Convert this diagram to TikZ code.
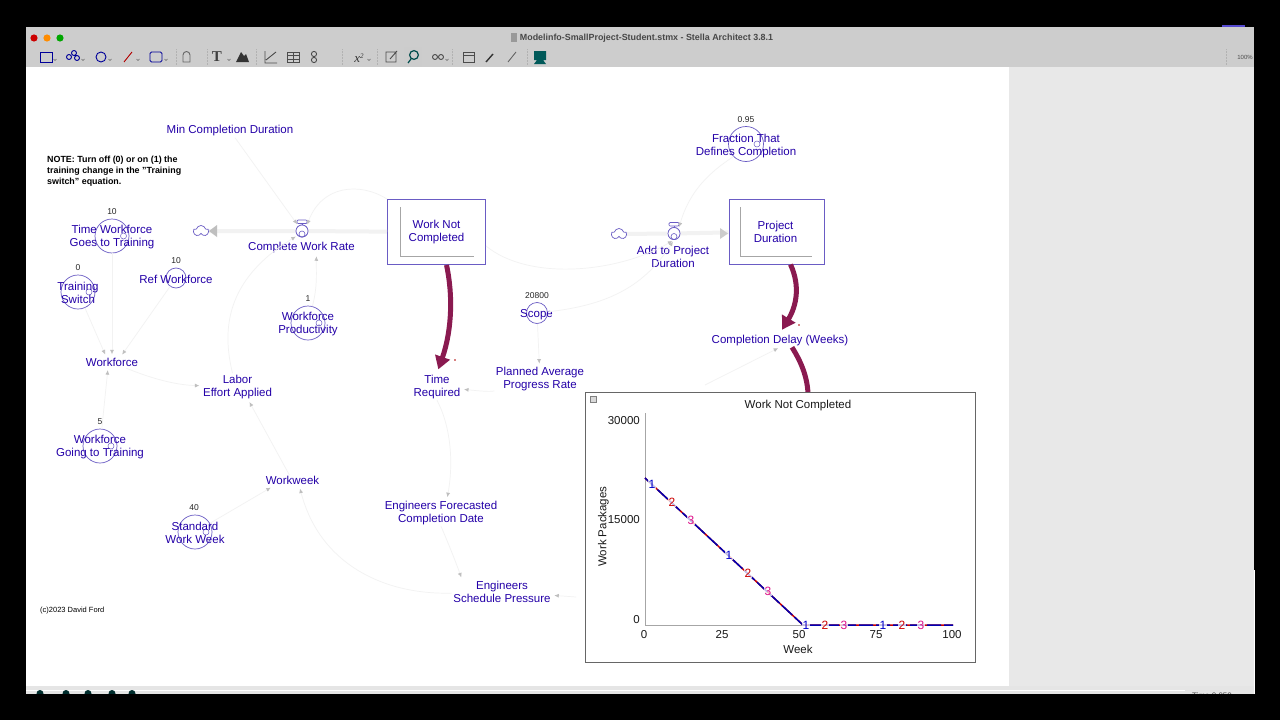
\documentclass[tikz,border=0pt]{standalone}
\usepackage{fontspec}
\setmainfont{Liberation Sans}
\newfontfamily\toolserif{Liberation Serif}
\usetikzlibrary{arrows.meta,shapes.symbols,calc}
\definecolor{inkblue}{HTML}{2400A8}
\definecolor{rimblue}{HTML}{6A5CC4}
\definecolor{maroon}{HTML}{8A1A50}
\definecolor{barGray}{HTML}{CDCDCD}
\definecolor{sidegray}{HTML}{E8E8E8}
\tikzset{
  lbl/.style={text=inkblue,font=\fontsize{11.5}{13}\selectfont,align=center,inner sep=1.5pt,yshift=-.7pt},
  val/.style={text=black!85,font=\fontsize{8.5}{9}\selectfont,inner sep=0pt,yshift=-.7pt},
  conv/.style={circle,draw=rimblue,line width=.7pt,inner sep=0pt},
  stock/.style={rectangle,draw=rimblue,line width=1pt,fill=white,inner sep=0pt},
  puff/.style={cloud,cloud puffs=5,aspect=1.25,draw=rimblue,line width=.7pt,minimum width=15pt,minimum height=11pt,inner sep=0pt},
  link/.style={draw=black!5,line width=.7pt,shorten >=2pt,-{Latex[length=4.5pt,width=4pt,color=black!25]}},
  heavy/.style={draw=maroon,line width=5pt,shorten >=4pt,-{Triangle[length=13pt,width=15pt,color=maroon]}},
  pipe/.style={draw=black!5,line width=4pt},
  plotlbl/.style={font=\fontsize{12}{13}\selectfont,fill=white,fill opacity=.75,text opacity=1,inner sep=.6pt},
  graphtxt/.style={text=black!90,font=\fontsize{11.5}{13}\selectfont,inner sep=0pt,yshift=-.7pt},
  tool/.style={draw=#1,line width=.9pt,fill=none},
  tool/.default=black!70
}
\begin{document}
\begin{tikzpicture}[x=1pt,y=-1pt]
  \fill[black] (0,0) rectangle (1280,720);
  \fill[white] (26,67) rectangle (1009,686);
  \fill[sidegray] (1009,67) rectangle (1254,686);
  \fill[barGray] (26,27) rectangle (1254,67);
  \fill[black!10] (26,686) rectangle (1254,694);
  \draw[white,line width=.8pt] (26,690) -- (1185,690);
  \fill[rimblue!80!blue] (1222,25) rectangle (1245,27);

  % window title and buttons
  \fill[red!80!black] (34,38) circle (3.6);
  \fill[orange!90!yellow] (47,38) circle (3.6);
  \fill[green!65!black] (60,38) circle (3.6);
  \fill[black!40] (511,33) rectangle (517,42);
  \node[font=\fontsize{8.9}{10}\selectfont\bfseries,text=black!72,inner sep=0pt] (wintitle) at (646.5,38.5) {Modelinfo-SmallProject-Student.stmx - Stella Architect 3.8.1};
  \node[font=\fontsize{6}{7}\selectfont,text=black!70,inner sep=0pt] (zoomlvl) at (1245,57.5) {100\%};

  % toolbar
  \fill[black!20] (404,47) rectangle (422,67);
  \draw[tool=blue!60!black] (40,52) rectangle (52,62);
  \draw[tool=blue!60!black] (69,57) circle (2.5) (74,53) circle (2.5) (77,58) circle (2.5);
  \draw[tool=blue!60!black] (101,57) circle (5);
  \draw[tool=red!70!black] (124,62) -- (132,52);
  \draw[tool=blue!60!black,rounded corners=1.5pt] (150,52) rectangle (162,62);
  \draw[tool=black!60] (183,62) -- (183,55) arc (180:360:3.5) -- (190,62) -- cycle;
  \node[font=\fontsize{15}{15}\toolserif\bfseries,text=black!75,inner sep=0pt] (toolT) at (217,57) {T};
  \fill[black!80] (236,62) -- (241,52) -- (244,56) -- (246,54) -- (249,62) -- cycle;
  \draw[tool=black!70] (265,51) -- (265,63) -- (277,63) (266,60) -- (271,56) -- (276,52);
  \draw[tool=black!70] (287,52) rectangle (299,62) (287,55.5) -- (299,55.5) (287,59) -- (299,59) (293,52) -- (293,62);
  \draw[tool=black!70] (314,54) circle (2.6) (314,60) circle (2.6);
  \node[font=\fontsize{13}{13}\toolserif\itshape,text=black!80,inner sep=0pt] (toolx) at (359,58) {x\raisebox{4pt}{\fontsize{7}{7}\selectfont 2}};
  \draw[tool=black!70] (386,52) rectangle (396,62) (390,59) -- (397,51);
  \draw[tool=teal!60!black,line width=1.2pt] (414,55) circle (4.4) (411,59) -- (408,63);
  \draw[tool=black!70] (435,57) circle (2.5) (441,57) circle (2.5);
  \draw[tool=black!70] (463,52) rectangle (474,62) (463,55) -- (474,55);
  \draw[tool=black!80,line width=1.4pt] (486,62) -- (493,54);
  \draw[tool=black!60] (508,62) -- (516,52);
  \fill[teal!70!black] (534,51) rectangle (546,60) (537,60) -- (543,60) -- (546,64) -- (534,64) -- cycle;
  \foreach \x in {55,83,110,138,166,229,369,447} \draw[black!60,line width=.5pt] (\x-1.5,59) -- (\x,60.5) -- (\x+1.5,59);
  \foreach \x in {176,207,256,342,377,452,527} \draw[black!30,densely dotted,line width=.5pt] (\x,49) -- (\x,65);
  \draw[black!30,densely dotted,line width=.5pt] (1226,49) -- (1226,65);

  % status bar bits
  \foreach \x in {40,66,88,112,132} \fill[black!65!teal] (\x,693.5) circle (3.5);
  \node[font=\fontsize{8}{9}\selectfont,text=black!70,inner sep=0pt] (timelbl) at (1212,696) {Time 0.950};
  \fill[black] (0,694) rectangle (1280,720);
  \fill[white] (1254,570) rectangle (1255,694);

  % stocks
  \node[stock,minimum width=98pt,minimum height=65pt] (wnc) at (436.5,232) {};
  \draw[black!35,line width=.8pt] (400,207) -- (400,256) -- (474,256);
  \node[lbl] (wncl) at (436.5,231) {Work Not\\Completed};
  \node[stock,minimum width=95pt,minimum height=65pt] (pdur) at (776.5,231.5) {};
  \draw[black!35,line width=.8pt] (740,207) -- (740,256) -- (812,256);
  \node[lbl] (pdurl) at (775.5,231) {Project\\Duration};

  % clouds and flows
  \node[puff] (srcw) at (201,231) {};
  \node[puff] (srcd) at (619,234) {};
  \node[conv,minimum size=12pt] (crate) at (302,231) {};
  \node[conv,minimum size=12pt] (arate) at (674,233.5) {};
  \draw[pipe] (crate) -- (wnc);
  \draw[pipe] (crate) -- (srcw);
  \draw[pipe] (srcd) -- (arate);
  \draw[pipe] (arate) -- (pdur);
  \fill[black!25] (209,231) -- (217,225) -- (217,237) -- cycle;
  \fill[black!20] (728,233.5) -- (720,228) -- (720,239) -- cycle;
  \node[conv,minimum size=12pt,fill=white] at (crate) {};
  \node[conv,minimum size=12pt,fill=white] at (arate) {};
  \draw[rimblue,line width=.6pt] (302,234) circle (3) (674,236.5) circle (3);
  \draw[rimblue,line width=.7pt] (302,222) -- (302,225) (674,225) -- (674,228);
  \draw[rimblue,line width=.7pt,rounded corners=1pt,fill=white] (297,220) rectangle (307,223.5);
  \draw[rimblue,line width=.7pt,rounded corners=1pt,fill=white] (669,222.5) rectangle (679,226);

  % converters
  \node[conv,minimum size=35pt] (fracc) at (746,144) {};
  \draw[rimblue,line width=.5pt] (757,144) circle (3);
  \node[conv,minimum size=34pt] (tgoesc) at (112,236) {};
  \draw[rimblue,line width=.5pt] (123.5,236) circle (3);
  \node[conv,minimum size=34pt] (tswitchc) at (78,292) {};
  \draw[rimblue,line width=.5pt] (89,292) circle (3);
  \node[conv,minimum size=20pt] (refc) at (176,278) {};
  \node[conv,minimum size=34pt] (prodc) at (308,323) {};
  \draw[rimblue,line width=.5pt] (319,323) circle (3);
  \node[conv,minimum size=21pt] (scopec) at (537,313) {};
  \node[conv,minimum size=34pt] (goingc) at (100,446) {};
  \draw[rimblue,line width=.5pt] (111,446) circle (3);
  \node[conv,minimum size=34pt] (stdc) at (195,532) {};
  \draw[rimblue,line width=.5pt] (206,532) circle (3);

  % values
  \node[val] (fracv) at (746,119) {0.95};
  \node[val] (tgoesv) at (112,211) {10};
  \node[val] (refv) at (176,260) {10};
  \node[val] (tswitchv) at (78,267) {0};
  \node[val] (prodv) at (308,298) {1};
  \node[val] (scopev) at (537,295) {20800};
  \node[val] (goingv) at (100,421) {5};
  \node[val] (stdv) at (194,507) {40};

  % labels
  \node[lbl] (mincd) at (230,130) {Min Completion Duration};
  \node[lbl] (crl) at (301.5,246.5) {Complete Work Rate};
  \node[lbl] (arl) at (673,256) {Add to Project\\Duration};
  \node[lbl] (frac) at (746,145) {Fraction That\\Defines Completion};
  \node[lbl] (tgoes) at (112,236.5) {Time Workforce\\Goes to Training};
  \node[lbl] (tswitch) at (78,292) {Training\\Switch};
  \node[lbl] (ref) at (176,279) {Ref Workforce};
  \node[lbl] (prod) at (308,323.5) {Workforce\\Productivity};
  \node[lbl] (scope) at (536.5,313.5) {Scope};
  \node[lbl] (wforce) at (112,361.5) {Workforce};
  \node[lbl] (going) at (100,446.5) {Workforce\\Going to Training};
  \node[lbl] (labor) at (237.5,386) {Labor\\Effort Applied};
  \node[lbl] (wweek) at (292.5,480) {Workweek};
  \node[lbl] (std) at (195,532) {Standard\\Work Week};
  \node[lbl] (treq) at (437,386) {Time\\Required};
  \node[lbl] (plan) at (540,378.5) {Planned Average\\Progress Rate};
  \node[lbl] (cdel) at (780,339.5) {Completion Delay (Weeks)};
  \node[lbl] (fcst) at (441,512) {Engineers Forecasted\\Completion Date};
  \node[lbl] (press) at (502,591) {Engineers\\Schedule Pressure};

  % connectors
  \coordinate (hidea) at (705,385);
  \coordinate (hideb) at (576,597);
  \coordinate (hidec) at (808,393);
  \draw[link] (mincd) -- (crate);
  \draw[link] (wnc.north west) .. controls (360,182) and (322,185) .. (crate.north east);
  \draw[link] (prodc) .. controls (318,285) and (316,270) .. ([xshift=15pt]crl.south);
  \draw[link] ([xshift=-5pt]labor.north) .. controls (222,330) and (225,280) .. (crate.south west);
  \draw[link] (tgoesc) -- (wforce.north);
  \draw[link] (tswitchc) -- ([xshift=-6pt]wforce.north);
  \draw[link] (refc) -- ([xshift=9pt]wforce.north);
  \draw[link] (goingc) -- ([xshift=-4pt]wforce.south);
  \draw[link] (wforce) .. controls (150,378) and (175,385) .. (labor);
  \draw[link] (wweek) -- ([xshift=11pt]labor.south);
  \draw[link] (stdc) -- ([xshift=-20pt]wweek.south);
  \draw[link] (press) .. controls (385,595) and (320,565) .. ([xshift=7pt]wweek.south);
  \draw[link] (plan) .. controls (490,392) and (480,391) .. (treq);
  \draw[link] (scopec) -- (plan);
  \draw[link] (treq.south) .. controls (450,425) and (454,460) .. ([xshift=6pt]fcst.north);
  \draw[link] (fcst.south) .. controls (449,545) and (455,560) .. ([xshift=-40pt]press.north);
  \draw[link] (hideb) -- (press);
  \draw[link] (fracc.south west) .. controls (710,172) and (690,190) .. (arate.north east);
  \draw[link] ([yshift=-14pt]wnc.east) .. controls (530,282) and (620,272) .. (arate.south);
  \draw[link] (scopec) .. controls (610,305) and (645,285) .. (arate.south);
  \draw[link] (hidea) -- (cdel.south);

  % thick links
  \draw[heavy] (wnc.south) ++(10,0) coordinate (wncfoot) .. controls (453,295) and (452,330) .. (treq.north);
  \draw[heavy] (pdur.south) ++(14,0) coordinate (pdurfoot) .. controls (800,285) and (797,305) .. (cdel.north);
  \draw[maroon,line width=5pt] (cdel.south) ++(12,0) coordinate (cdelfoot) .. controls (800,360) and (807,375) .. (hidec);
  \fill[red!70!black] (455,360) circle (.8);
  \fill[red!70!black] (799,325) circle (.8);

  % note text
  \node[font=\fontsize{8.9}{11}\selectfont\bfseries,align=left,inner sep=0pt,anchor=north west] (note) at (47,156) {NOTE: Turn off (0) or on (1) the\\training change in the "Training\\switch" equation.};
  \node[font=\fontsize{7.5}{8}\selectfont,inner sep=0pt,anchor=west] (copyr) at (40,611) {(c)2023 David Ford};

  % graph pad
  \fill[black!60] (648,392) rectangle (656,393);
  \node[draw=black!60,line width=.9pt,fill=white,minimum width=390pt,minimum height=270pt,inner sep=0pt] (pad) at (780,527) {};
  \node[draw=black!50,fill=black!15,minimum size=6pt,inner sep=0pt] (padbtn) at (593,399) {};
  \node[graphtxt] (padtitle) at (798,405) {Work Not Completed};
  \node[graphtxt,anchor=east] (y30) at (640,420) {30000};
  \node[graphtxt,anchor=east] (y15) at (640,519) {15000};
  \node[graphtxt,anchor=east] (y0) at (640,619) {0};
  \node[graphtxt] (x0) at (644,634) {0};
  \node[graphtxt] (x25) at (722,634) {25};
  \node[graphtxt] (x50) at (799,634) {50};
  \node[graphtxt] (x75) at (876,634) {75};
  \node[graphtxt] (x100) at (952,634) {100};
  \node[graphtxt] (xname) at (798,649) {Week};
  \node[graphtxt,rotate=90] (yname) at (603.5,526) {Work Packages};
  \draw[black!35,line width=.9pt] (645,413) -- (645,625) -- (953,625);
  \coordinate (pstart) at (645,478);
  \coordinate (pknee) at (803,625);
  \coordinate (pend) at (953,625);
  \draw[red!80!black,line width=1.5pt] (pstart) -- (pknee) -- (pend);
  \draw[blue!70!black,line width=1.5pt,dash pattern=on 14pt off 3pt] (pstart) -- (pknee) -- (pend);
  \foreach \x/\y/\c/\t in {652/484/blue!80!black/1,672/502/red!80!black/2,691/520/magenta!85!violet/3,729/555/blue!80!black/1,748/573/red!80!black/2,768/591/magenta!85!violet/3,806/625/blue!80!black/1,825/625/red!80!black/2,844/625/magenta!85!violet/3,883/625/blue!80!black/1,902/625/red!80!black/2,921/625/magenta!85!violet/3}
    \node[plotlbl,text=\c] at (\x,\y) {\t};
\end{tikzpicture}
\end{document}
